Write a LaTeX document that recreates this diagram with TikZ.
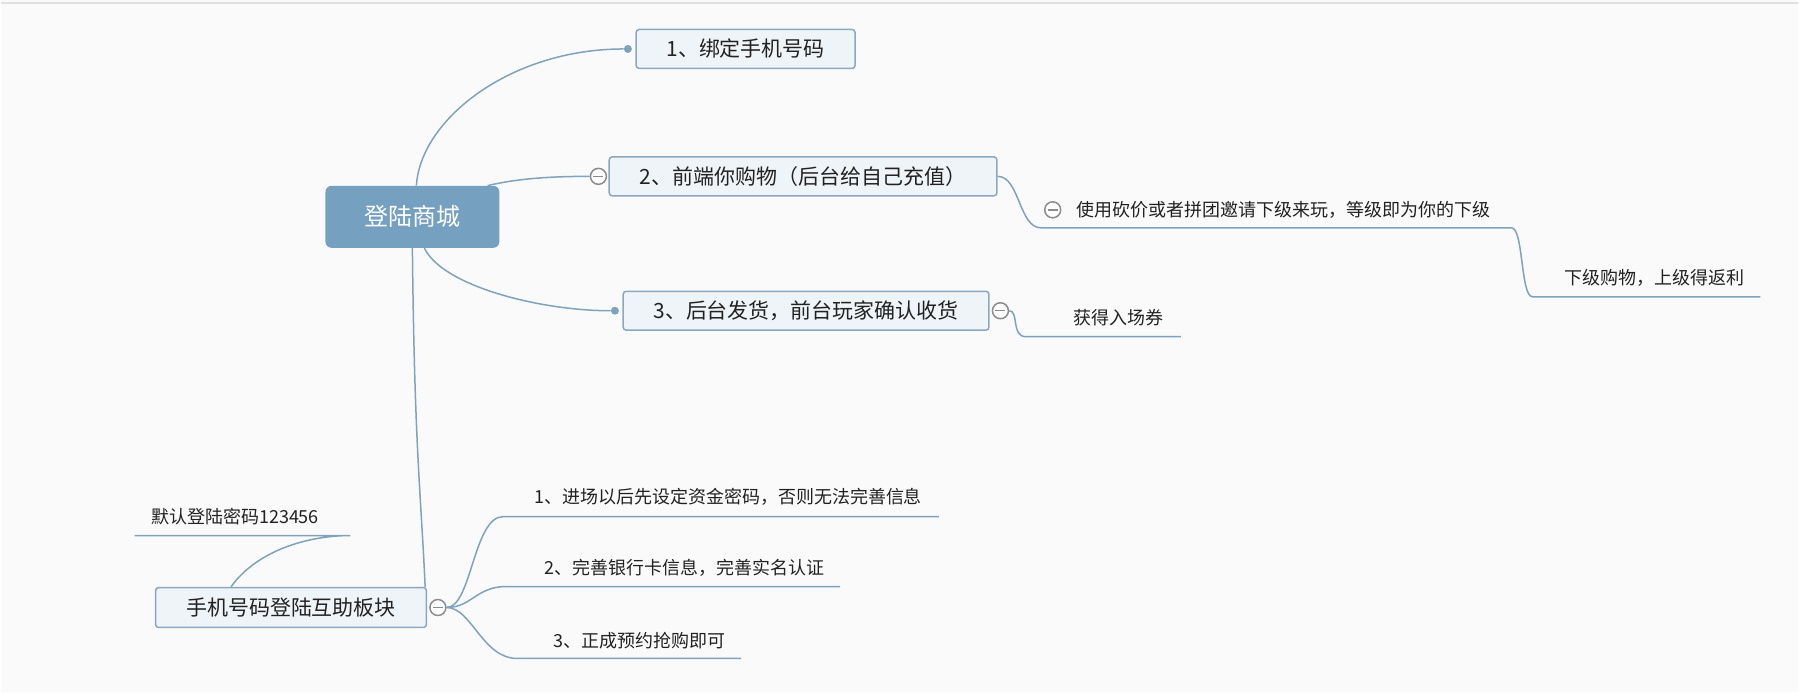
\documentclass[tikz,border=0pt]{standalone}
\usepackage{fontspec}
\setmainfont{Noto Sans CJK SC}
\usetikzlibrary{positioning,calc}

\definecolor{linec}{HTML}{7FA3BD}
\definecolor{boxfill}{HTML}{EFF4F8}
\definecolor{boxdraw}{HTML}{8AA8C0}
\definecolor{rootfill}{HTML}{75A0C0}
\definecolor{foldc}{HTML}{8C8C8C}
\definecolor{bgc}{HTML}{FAFAFA}
\definecolor{txtc}{HTML}{222222}

\newdimen\pxu \pxu=0.75pt

\begin{document}
\begin{tikzpicture}[
    x=0.75pt, y=-0.75pt,
    central/.style ={rectangle, rounded corners=6\pxu, fill=rootfill,
                     minimum width=174\pxu, minimum height=62\pxu,
                     inner sep=0pt, text=white,
                     font=\fontsize{18}{22}\selectfont},
    topic/.style   ={rectangle, rounded corners=3\pxu, draw=boxdraw,
                     line width=1.5\pxu, fill=boxfill,
                     minimum height=39\pxu, inner sep=0pt, text=txtc,
                     font=\fontsize{15.75}{19}\selectfont},
    leaf/.style    ={inner sep=0pt, text=txtc,
                     font=\fontsize{13.5}{16}\selectfont},
    fold/.style    ={circle, draw=foldc, fill=white, line width=1.5\pxu,
                     minimum size=16\pxu, inner sep=0pt,
                     path picture={\draw[foldc, line width=1.5\pxu]
                       ([xshift=3\pxu]path picture bounding box.west) --
                       ([xshift=-3\pxu]path picture bounding box.east);}},
    knob/.style    ={circle, fill=linec, minimum size=8\pxu, inner sep=0pt},
    branch/.style  ={draw=linec, line width=1.5\pxu},
    topline/.style ={draw=black!12, line width=1.5\pxu},
]

% ----------------------------------------------------------------------
%  canvas
% ----------------------------------------------------------------------
\fill[bgc] (0,0) rectangle (1799,693);
\draw[topline] (0,3) -- (1799,3);
\useasboundingbox (0,0) rectangle (1799,693);

% ----------------------------------------------------------------------
%  central topic + main topics
% ----------------------------------------------------------------------
\node[central] (root) at (412,217) {登陆商城};
\node[topic, minimum width=219\pxu] (b1) at (745.5,49) {1、绑定手机号码};
\node[topic, minimum width=388\pxu] (b2) at (803,176.5)
        {2、前端你购物（后台给自己充值）};
\node[topic, minimum width=366\pxu] (b3) at (806,311)
        {3、后台发货，前台玩家确认收货};
\node[topic, minimum width=271\pxu, minimum height=40\pxu] (b4) at (290.5,608)
        {手机号码登陆互助板块};

\node[knob, left=2.5pt of b1]  (k1) {};
\node[fold, left=1pt of b2]    (f2) {};
\node[knob, left=2.5pt of b3]  (k3) {};
\node[fold, right=1.5pt of b3] (f3) {};
\node[fold, right=1.5pt of b4] (f4) {};

% ----------------------------------------------------------------------
%  sub topics (underlined text)
% ----------------------------------------------------------------------
\node[leaf] (t21)  at (1283.5,210) {使用砍价或者拼团邀请下级来玩，等级即为你的下级};
\node[fold, left=11pt of t21] (f21) {};
\node[leaf] (t211) at (1655.5,278) {下级购物，上级得返利};
\node[leaf] (t31)  at (1119,318)   {获得入场券};
\node[leaf] (t41)  at (728,497)    {1、进场以后先设定资金密码，否则无法完善信息};
\node[leaf] (t42)  at (684,568)    {2、完善银行卡信息，完善实名认证};
\node[leaf] (t43)  at (639.5,641)  {3、正成预约抢购即可};
\node[leaf] (t4l)  at (234.5,517)  {默认登陆密码123456};

% underline ends
\coordinate (u21a)  at (1041,228);  \coordinate (u21b)  at (1512,228);
\coordinate (u211a) at (1533,297);  \coordinate (u211b) at (1761,297);
\coordinate (u31a)  at (1026,337);  \coordinate (u31b)  at (1181,337);
\coordinate (u41a)  at (503,517);   \coordinate (u41b)  at (939,517);
\coordinate (u42a)  at (506,587);   \coordinate (u42b)  at (840,587);
\coordinate (u43a)  at (517,659);   \coordinate (u43b)  at (741,659);
\coordinate (u4la)  at (350,536);   \coordinate (u4lb)  at (134,536);

% ----------------------------------------------------------------------
%  branches
% ----------------------------------------------------------------------
\draw[branch] ($(root.north)+(4,0)$) .. controls +(4,-66) and +(-118,0) .. (k1);
\draw[branch] ($(root.north east)+(-12,0)$) .. controls +(30,-7) and +(-40,0) .. (f2.west);
\draw[branch] ($(root.south)+(12,0)$) .. controls +(18,38) and +(-75,0) .. (k3);
\draw[branch] (root.south) .. controls +(2,200) and +(-4,-90) .. ($(b4.north east)+(-2,0)$);

\draw[branch] (b2.east) .. controls +(22,0) and +(-22,0) .. (u21a) -- (u21b)
      .. controls +(12,0) and +(-12,0) .. (u211a) -- (u211b);
\draw[branch] (f3.east) .. controls +(10,0) and +(-15,0) .. (u31a) -- (u31b);

\draw[branch] (f4.east) .. controls +(25,0) and +(-30,0) .. (u41a) -- (u41b);
\draw[branch] (f4.east) .. controls +(25,0) and +(-30,0) .. (u42a) -- (u42b);
\draw[branch] (f4.east) .. controls +(25,0) and +(-35,0) .. (u43a) -- (u43b);
\draw[branch] ($(b4.north)+(-60,0)$) .. controls +(25,-35) and +(-45,0) .. (u4la) -- (u4lb);

\end{tikzpicture}
\end{document}
